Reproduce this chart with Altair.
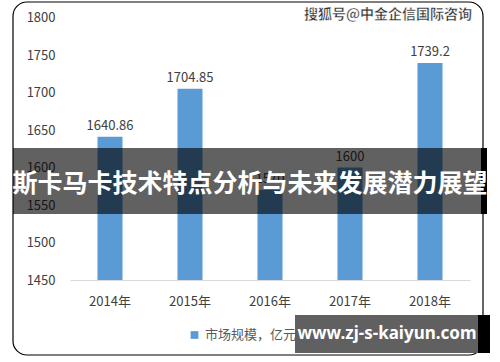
import altair as alt
import pandas as pd

years = ["2014年", "2015年", "2016年", "2017年", "2018年"]
values = [1640.86, 1704.85, 1570.0, 1600.0, 1739.2]
value_labels = ["1640.86", "1704.85", "1570", "1600", "1739.2"]
series_name = "市场规模，亿元"
y_ticks = [1450, 1500, 1550, 1600, 1650, 1700, 1750, 1800]

df = pd.DataFrame({"year": years, "value": values, "label": value_labels,
                   "series": [series_name] * len(years)})

FONT = "Noto Sans CJK SC"
W, H = 400, 262.5

xscale = alt.Scale(domain=years, paddingInner=0.6875, paddingOuter=0.34375)
yscale = alt.Scale(domain=[1450, 1800], nice=False, zero=False)

xaxis = alt.Axis(title=None, labelAngle=0)
yaxis = alt.Axis(title=None, values=y_ticks, format="d")

base = alt.Chart(df)

bars = base.mark_bar(clip=True).encode(
    x=alt.X("year:N", scale=xscale, sort=years, axis=xaxis),
    y=alt.Y("value:Q", scale=yscale, axis=yaxis),
    color=alt.Color("series:N", scale=alt.Scale(range=["#5b9bd5"]),
                    legend=alt.Legend(title=None, orient="none", legendX=118, legendY=311,
                                      symbolType="square", symbolSize=60,
                                      symbolFillColor="#5b9bd5", symbolStrokeWidth=0,
                                      labelFont=FONT, labelFontSize=13,
                                      labelColor="#595959")),
)

labels = base.mark_text(dy=-11, font=FONT, fontSize=13, color="#404040").encode(
    x=alt.X("year:N", scale=xscale, sort=years, axis=xaxis),
    y=alt.Y("value:Q", scale=yscale, axis=yaxis),
    text="label:N",
)

deco = pd.DataFrame({"k": [0]})
dchart = alt.Chart(deco)

border = dchart.mark_rect(fill=None, stroke="#000000", strokeWidth=1.2, cornerRadius=14).encode(
    x=alt.value(-57), x2=alt.value(413), y=alt.value(-15.5), y2=alt.value(337.5))

banner = dchart.mark_rect(color="#000000", opacity=0.62).encode(
    x=alt.value(-57), x2=alt.value(412), y=alt.value(130.5), y2=alt.value(196.5))
banner_edge = dchart.mark_rect(color="#000000").encode(
    x=alt.value(411), x2=alt.value(417), y=alt.value(130.5), y2=alt.value(196.5))
banner_text = dchart.mark_text(font=FONT, fontSize=25, fontWeight="bold", color="#ffffff",
                               baseline="middle", align="center").encode(
    x=alt.value(180), y=alt.value(166), text=alt.value("斯卡马卡技术特点分析与未来发展潜力展望"))

top_mark = dchart.mark_text(font=FONT, fontSize=14, fontWeight="bold", color="#2b2b2b",
                            stroke="#ffffff", strokeWidth=0.4,
                            baseline="middle", align="center").encode(
    x=alt.value(318), y=alt.value(-2.5), text=alt.value("搜狐号@中金企信国际咨询"))

wm_box = dchart.mark_rect(color="#606060").encode(
    x=alt.value(225), x2=alt.value(409), y=alt.value(297.5), y2=alt.value(335.5))
wm_edge = dchart.mark_rect(color="#000000").encode(
    x=alt.value(408), x2=alt.value(420), y=alt.value(297.5), y2=alt.value(335.5))
wm_text = dchart.mark_text(font="Noto Sans", fontSize=17, fontWeight="bold", color="#ffffff",
                           baseline="middle", align="center").encode(
    x=alt.value(317), y=alt.value(316), text=alt.value("www.zj-s-kaiyun.com"))

chart = alt.layer(
    border, bars, labels, top_mark, banner, banner_edge, banner_text, wm_box, wm_edge, wm_text
).properties(
    width=W, height=H,
    autosize=alt.AutoSizeParams(type="none"),
    padding={"left": 70, "top": 17.5, "right": 30, "bottom": 82},
    background="#ffffff",
).configure_view(stroke=None).configure_axis(
    labelOverlap=False, labelFlush=False, grid=False, ticks=False,
    labelFont=FONT, labelFontSize=13, labelColor="#404040", labelPadding=15,
).configure_axisY(domain=False).configure_axisX(domainColor="#d9d9d9")

chart.save("out.html", embed_options={"renderer": "svg", "actions": False})
